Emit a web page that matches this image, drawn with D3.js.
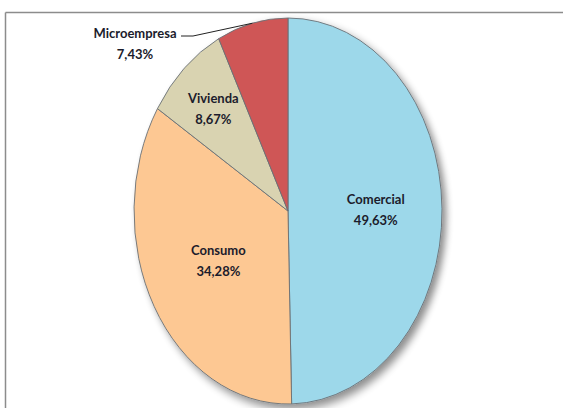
<!DOCTYPE html>
<html>
<head>
<meta charset="utf-8">
<script src="https://cdn.jsdelivr.net/npm/d3@7"></script>
<style>
  html, body { margin: 0; padding: 0; background: #fff; }
  svg { display: block; }
</style>
</head>
<body>
<div id="chart"></div>
<script>
// data
const categories = ["Comercial", "Consumo", "Vivienda", "Microempresa"];
const shares = [49.63, 34.28, 8.67, 7.43];
const pctLabels = ["49,63%", "34,28%", "8,67%", "7,43%"];

const width = 563, height = 408;
const cx = 288, cy = 211, rx = 154, ry = 193;

const color = d3.scaleOrdinal()
  .domain(categories)
  .range(["#9dd8ea", "#fdc893", "#d9d3b1", "#cf5656"]);

// how far out each label sits (fraction of radius); "outside" gets a leader
const labelPos = {Comercial: 0.57, Consumo: 0.52, Vivienda: 0.72, Microempresa: "outside"};

const svg = d3.select("#chart").append("svg")
  .attr("width", width).attr("height", height);

const defs = svg.append("defs");
const shadow = defs.append("filter").attr("id", "shadow")
  .attr("x", "-10%").attr("y", "-10%").attr("width", "125%").attr("height", "125%");
shadow.append("feGaussianBlur").attr("in", "SourceAlpha").attr("stdDeviation", 2.5);
shadow.append("feOffset").attr("dx", 2.5).attr("dy", 2.5).attr("result", "off");
shadow.append("feComponentTransfer").append("feFuncA").attr("type", "linear").attr("slope", 0.45);
const merge = shadow.append("feMerge");
merge.append("feMergeNode");
merge.append("feMergeNode").attr("in", "SourceGraphic");

// frame
svg.append("line").attr("x1", 5.5).attr("x2", width).attr("y1", 12.5).attr("y2", 12.5)
  .attr("stroke", "#8c8c8c").attr("stroke-width", 1.5);
svg.append("line").attr("x1", 5.5).attr("x2", 5.5).attr("y1", 12.5).attr("y2", height)
  .attr("stroke", "#8c8c8c").attr("stroke-width", 1.5);

const rows = categories.map((c, i) => ({name: c, value: shares[i], label: pctLabels[i]}));

const pie = d3.pie().sort(null).value(d => d.value);
const arcs = pie(rows);

// unit circle arc, stretched into the ellipse
const R = 100;
const arc = d3.arc().innerRadius(0).outerRadius(R);

const pieG = svg.append("g")
  .attr("transform", `translate(${cx},${cy}) scale(${rx / R},${ry / R})`);

pieG.append("g").attr("filter", "url(#shadow)")
  .selectAll("path")
  .data(arcs)
  .join("path")
  .attr("d", arc)
  .attr("fill", d => color(d.data.name))
  .attr("stroke", "#6a7176")
  .attr("stroke-width", 0.9)
  .attr("vector-effect", "non-scaling-stroke");

// map a point at (angle, fraction of radius) to screen
function toScreen(angle, f) {
  return [cx + rx * f * Math.sin(angle), cy - ry * f * Math.cos(angle)];
}

const labels = svg.append("g")
  .attr("font-family", "Lato, 'Open Sans', sans-serif")
  .attr("font-weight", "bold")
  .attr("font-size", "13px")
  .attr("fill", "#1c1c2c")
  .attr("text-anchor", "middle");

arcs.forEach(d => {
  const mid = (d.startAngle + d.endAngle) / 2;
  const pos = labelPos[d.data.name];
  let x, y;
  if (pos === "outside") {
    const edge = toScreen(mid, 1);
    x = 135; y = 33;
    labels.append("path")
      .attr("d", d3.line()([[x + 46, y + 3], [x + 58, y + 3], edge]))
      .attr("fill", "none").attr("stroke", "#222").attr("stroke-width", 1);
  } else {
    [x, y] = toScreen(mid, pos);
    y -= 10;
  }
  labels.append("text").attr("x", x).attr("y", y + 4.5).text(d.data.name);
  labels.append("text").attr("x", x).attr("y", y + 25.5).text(d.data.label);
});
</script>
</body>
</html>
